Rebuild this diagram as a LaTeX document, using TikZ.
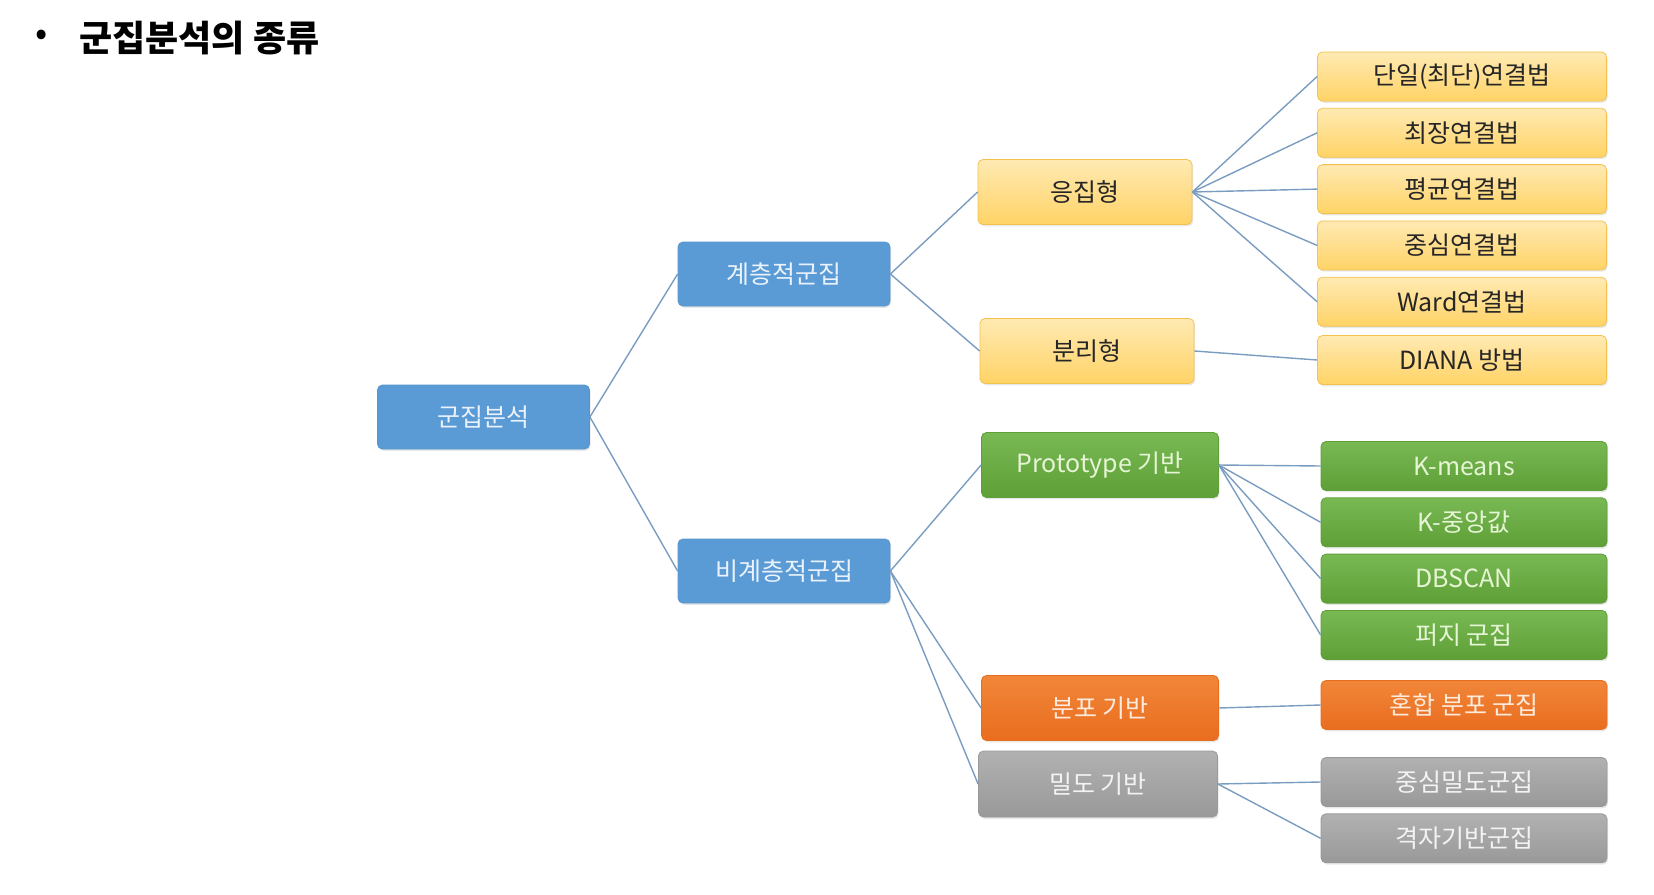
\documentclass[tikz,border=0pt]{standalone}
\usepackage{fontspec}
\setmainfont{Noto Sans CJK KR}
\usetikzlibrary{positioning, shadows}

\definecolor{clusterblue}{HTML}{5B9BD5}
\definecolor{bluetext}{HTML}{EAF2FB}
\definecolor{goldtop}{HTML}{FFEAB3}
\definecolor{goldbottom}{HTML}{FFD366}
\definecolor{goldline}{HTML}{F3C24C}
\definecolor{greentop}{HTML}{78B954}
\definecolor{greenbottom}{HTML}{5E9F37}
\definecolor{greentext}{HTML}{E6F5D5}
\definecolor{orangetop}{HTML}{F18639}
\definecolor{orangebottom}{HTML}{E96D1F}
\definecolor{orangetext}{HTML}{FDEBDD}
\definecolor{graytop}{HTML}{B1B1B1}
\definecolor{graybottom}{HTML}{999999}
\definecolor{graytext}{HTML}{F3F3F3}
\definecolor{linkblue}{HTML}{7A9CC0}

\begin{document}
\begin{tikzpicture}[
	x=0.5pt, y=-0.5pt,
	node distance=3.25pt and 10mm,
	box/.style={
		rectangle,
		rounded corners=2.5pt,
		align=center,
		inner sep=0pt,
		line width=0.4pt,
		font=\fontsize{12.5}{14}\selectfont,
		drop shadow={opacity=0.18, shadow xshift=0.6pt, shadow yshift=-0.9pt}
	},
	bluebox/.style={box, fill=clusterblue, draw=clusterblue!95!black, text=bluetext,
		minimum width=106pt, minimum height=32pt},
	yellowbox/.style={box, top color=goldtop, bottom color=goldbottom, draw=goldline, text=black!85},
	greenbox/.style={box, top color=greentop, bottom color=greenbottom, draw=greenbottom, text=greentext},
	orangebox/.style={box, top color=orangetop, bottom color=orangebottom, draw=orangebottom, text=orangetext},
	graybox/.style={box, top color=graytop, bottom color=graybottom, draw=graybottom, text=graytext},
	midbox/.style={minimum width=107pt, minimum height=32.5pt},
	leafbox/.style={minimum width=144.5pt, minimum height=24.5pt},
	link/.style={draw=linkblue, line width=0.7pt}
]
	\useasboundingbox (0,0) rectangle (1654,894);

	% title
	\node (bullet) at (42,38) {\fontsize{18}{20}\selectfont •};
	\node[anchor=west, inner sep=0pt] (title) at (79,38) {\fontsize{18}{20}\selectfont\bfseries 군집분석의 종류};

	% blue levels
	\node[bluebox] (root) at (483.5,417) {군집분석};
	\node[bluebox] (hier) at (784,274) {계층적군집};
	\node[bluebox] (nonhier) at (784,571) {비계층적군집};

	% middle level
	\node[yellowbox, midbox] (agglo) at (1085,192) {응집형};
	\node[yellowbox, midbox] (divis) at (1087,351) {분리형};
	\node[greenbox, midbox, minimum width=118.5pt] (proto) at (1100,465) {Prototype 기반};
	\node[orangebox, midbox, minimum width=118.5pt] (distrib) at (1100,708) {분포 기반};
	\node[graybox, midbox, minimum width=119.5pt, minimum height=33pt] (density) at (1098,784) {밀도 기반};

	% leaves
	\node[yellowbox, leafbox] (single) at (1462,76.5) {단일(최단)연결법};
	\node[yellowbox, leafbox, below=of single] (complete) {최장연결법};
	\node[yellowbox, leafbox, below=of complete] (average) {평균연결법};
	\node[yellowbox, leafbox, below=of average] (centroid) {중심연결법};
	\node[yellowbox, leafbox, below=of centroid] (ward) {Ward연결법};
	\node[yellowbox, leafbox] (diana) at (1462,360) {DIANA 방법};

	\node[greenbox, leafbox, minimum width=143pt] (kmeans) at (1464,466) {K-means};
	\node[greenbox, leafbox, minimum width=143pt, below=of kmeans] (kmedian) {K-중앙값};
	\node[greenbox, leafbox, minimum width=143pt, below=of kmedian] (dbscan) {DBSCAN};
	\node[greenbox, leafbox, minimum width=143pt, below=of dbscan] (fuzzy) {퍼지 군집};

	\node[orangebox, leafbox, minimum width=143pt] (mixture) at (1464,705) {혼합 분포 군집};

	\node[graybox, leafbox, minimum width=143pt] (centerdens) at (1464,782) {중심밀도군집};
	\node[graybox, leafbox, minimum width=143pt, below=of centerdens] (grid) {격자기반군집};

	% connectors
	\draw[link] (root.east) -- (hier.west);
	\draw[link] (root.east) -- (nonhier.west);
	\draw[link] (hier.east) -- (agglo.west);
	\draw[link] (hier.east) -- (divis.west);
	\draw[link] (agglo.east) -- (single.west);
	\draw[link] (agglo.east) -- (complete.west);
	\draw[link] (agglo.east) -- (average.west);
	\draw[link] (agglo.east) -- (centroid.west);
	\draw[link] (agglo.east) -- (ward.west);
	\draw[link] (divis.east) -- (diana.west);
	\draw[link] (nonhier.east) -- (proto.west);
	\draw[link] (nonhier.east) -- (distrib.west);
	\draw[link] (nonhier.east) -- (density.west);
	\draw[link] (proto.east) -- (kmeans.west);
	\draw[link] (proto.east) -- (kmedian.west);
	\draw[link] (proto.east) -- (dbscan.west);
	\draw[link] (proto.east) -- (fuzzy.west);
	\draw[link] (distrib.east) -- (mixture.west);
	\draw[link] (density.east) -- (centerdens.west);
	\draw[link] (density.east) -- (grid.west);

\end{tikzpicture}
\end{document}
